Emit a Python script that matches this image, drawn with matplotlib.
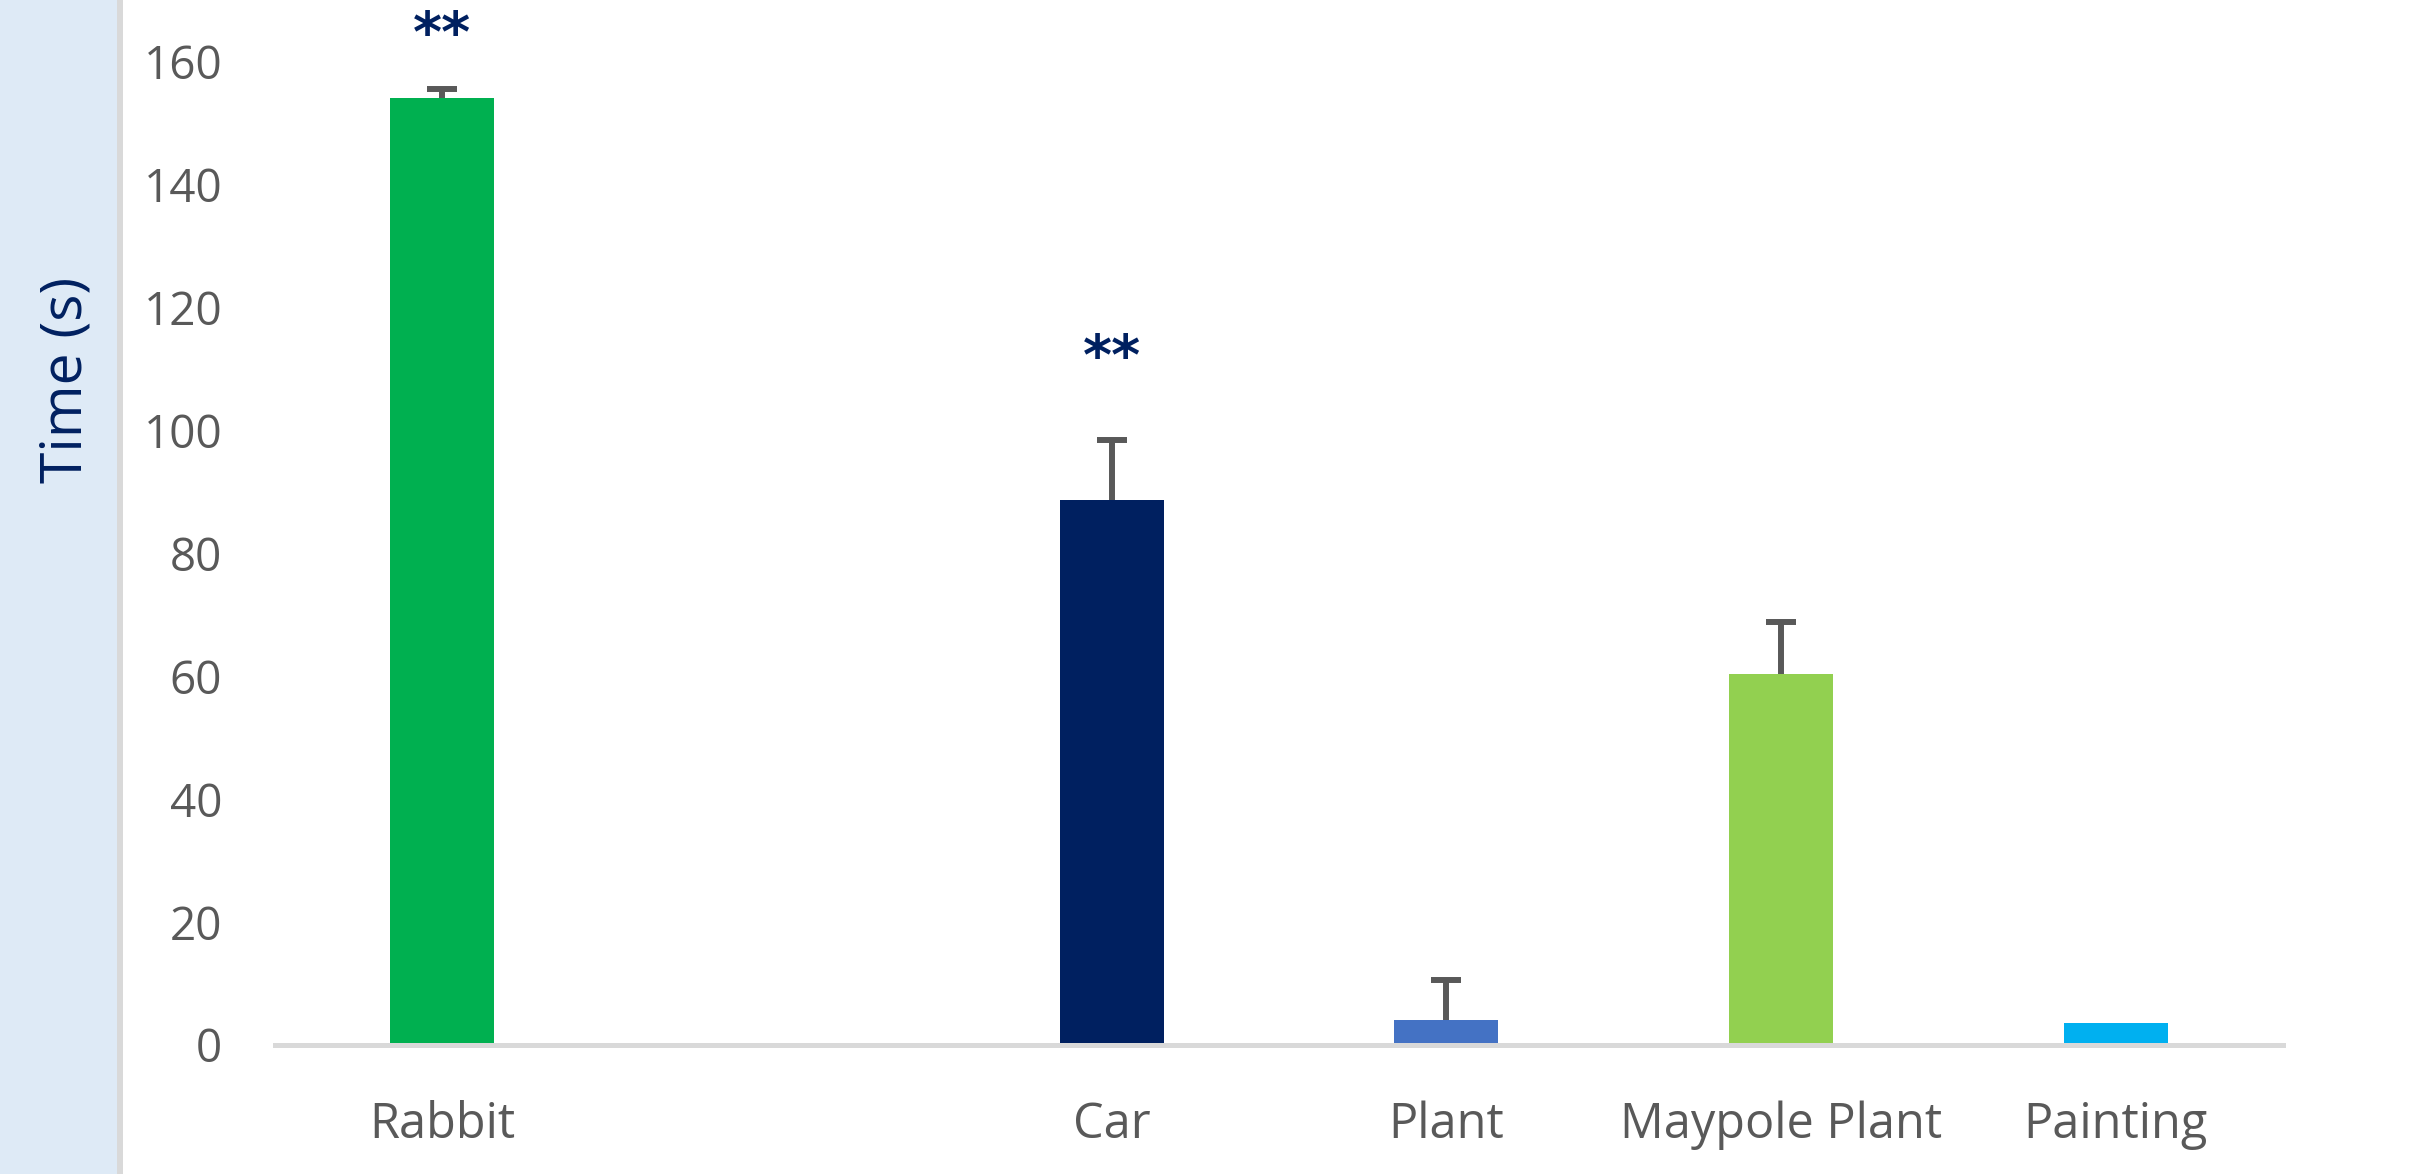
import matplotlib
matplotlib.use("Agg")
import matplotlib.pyplot as plt
import numpy as np
from matplotlib.patches import Rectangle

# chart data (one empty slot between Rabbit and Car)
categories = ["Rabbit", "", "Car", "Plant", "Maypole Plant", "Painting"]
mean_time = [154.0, np.nan, 88.7, 4.1, 60.4, 3.6]
err_up = [1.5, np.nan, 9.8, 6.5, 8.4, np.nan]
bar_colors = ["#00B050", "#FFFFFF", "#002060", "#4472C4", "#92D050", "#00B0F0"]
sig_labels = ["**", "", "**", "", "", ""]
sig_y = [167.0, np.nan, 114.4, np.nan, np.nan, np.nan]
y_ticks = [0, 20, 40, 60, 80, 100, 120, 140, 160]

plt.rcParams['font.family'] = ['Open Sans', 'DejaVu Sans']

W, H = 2435, 1174
fig = plt.figure(figsize=(W / 100, H / 100), dpi=100)

# light blue strip on the left edge with a grey border
fig.patches.append(Rectangle((0, 0), 117 / W, 1, transform=fig.transFigure,
                             facecolor="#DEEAF6", edgecolor="none", zorder=0))
fig.patches.append(Rectangle((117 / W, 0), 6 / W, 1, transform=fig.transFigure,
                             facecolor="#D9D9D9", edgecolor="none", zorder=0))

ax = fig.add_axes([275 / W, 1 - 1045 / H, (2283 - 275) / W, 1045 / H])

x = np.arange(len(categories))
ax.bar(x, mean_time, width=0.31, color=bar_colors, zorder=2)

# upper-only error bars, skip where there is none
mask = ~np.isnan(np.array(err_up, dtype=float))
xe = x[mask]
ye = np.array(mean_time)[mask]
ee = np.array(err_up)[mask]
_, caps, _ = ax.errorbar(xe, ye, yerr=[np.zeros_like(ee), ee], fmt="none",
                         ecolor="#595959", elinewidth=4.3, capsize=10.8,
                         capthick=4.3, zorder=3)
caps[0].set_visible(False)  # no cap at the bar top

# significance stars, sig_y is the centre of the glyphs
star_size = 40
for xi, lab, yy in zip(x, sig_labels, sig_y):
    if lab:
        ax.annotate(lab, (xi, yy), xytext=(0, -0.58 * star_size),
                    textcoords="offset points", ha="center", va="baseline",
                    fontsize=star_size, fontweight="bold", color="#002060",
                    annotation_clip=False, family=['DejaVu Sans'])

ax.set_xlim(-0.5, len(categories) - 0.5)
ax.set_ylim(0, 170)
ax.set_yticks(y_ticks)
ax.set_xticks(x)
ax.set_xticklabels(categories)

for s in ["top", "right", "left"]:
    ax.spines[s].set_visible(False)
ax.spines["bottom"].set_color("#D9D9D9")
ax.spines["bottom"].set_linewidth(3.6)
ax.spines["bottom"].set_zorder(4)

ax.tick_params(axis="both", length=0, labelcolor="#595959")
ax.tick_params(axis="y", pad=38, labelsize=33)
ax.tick_params(axis="x", pad=40, labelsize=35)

fig.text(67 / W, 1 - 380 / H, "Time (s)", rotation=90, ha="center",
         va="center", fontsize=41, color="#002060")

fig.savefig("out.png", dpi=100)
